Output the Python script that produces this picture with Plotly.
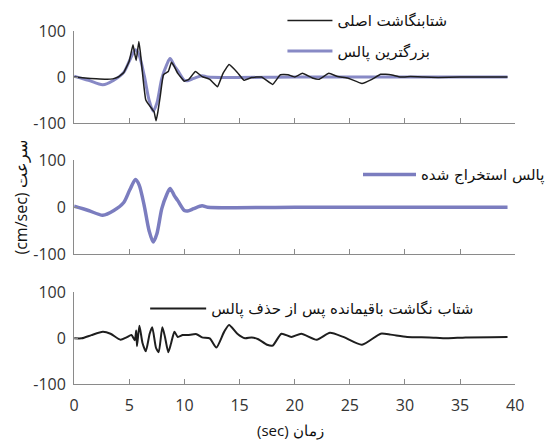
import plotly.graph_objects as go

# ---------------- data ----------------
orig_t = [0, 1, 2, 3, 3.5, 4, 4.5, 5, 5.34, 5.5, 5.63, 5.87, 6.0, 6.5, 7.08, 7.25, 7.43, 7.6, 7.8,
          8.1, 8.54, 8.83, 9.1, 9.4, 10.0, 10.4, 11.0, 11.6, 12.3, 13.0, 13.5, 14.05, 14.8, 15.4,
          16.1, 17.0, 18.0, 18.7, 19.4, 20.0, 20.7, 21.6, 22.2, 23.1, 23.9, 24.8, 26.1, 27.0,
          27.8, 28.7, 29.6, 30.5, 31.7, 33.0, 35.0, 37.0, 39.3]
orig_v = [0, -2, -4, -5, -4, 0, 10, 35, 70, 50, 36, 77, 55, -50, -70, -75, -95, -75, -43,
          5, 12, 32, 22, 8, -9, -5, 12, 1, -5, -21, 8, 27, 10, -7,
          -1, 0, -16, 5, 5, 0, 8, -2, -5, 8, 1, -2, -14, -5,
          6, 5, 0, 1, 0, -1, 0, 0, 0]

pulse_t = [0, 1.3, 2.6, 3.6, 4.5, 5.05, 5.57, 5.9, 6.36, 6.8, 7.17, 7.5, 7.95, 8.4, 8.7,
           9.1, 9.4, 10.0, 10.3, 10.85, 11.6, 12.1, 20.0, 30.0, 39.3]
pulse_v = [2, -7, -17, -7, 10, 37, 59, 47, 3, -50, -74, -57, -3, 27, 40,
           24, 14, -7, -8, -3, 3, 0, 0, 0, 0]

resid_t = [0, 0.7, 1.57, 2.6, 3.3, 4.2, 4.75, 5.2, 5.5, 5.63, 5.7, 5.92, 6.2, 6.5, 6.85,
           7.08, 7.43, 7.67, 8.0, 8.24, 8.54, 8.8, 9.1, 9.4, 9.84, 10.3, 11.1, 11.6, 12.3,
           12.9, 13.6, 14.05, 14.8, 15.5, 16.1, 16.7, 17.5, 18.0, 18.8, 19.7, 20.6, 22.0,
           23.2, 24.4, 26.1, 27.8, 28.7, 30.2, 32.2, 33.8, 35.5, 39.3]
resid_v = [0, 0, 7, 14, 10, -3, 2, 7, -4, 17, -17, 27, -10, -28, 10,
           24, -21, -30, 24, 3, -30, -10, 14, 3, 7, 7, 9, 2, 0,
           -20, 14, 29, 10, 0, 2, -2, -14, -16, 10, 3, 10, -3,
           12, 3, -14, 10, 8, 3, 2, 0, 2, 3]

x_ticks = [0, 5, 10, 15, 20, 25, 30, 35, 40]
y_ticks = [-100, 0, 100]
y_ticktext = ["-100", "0", "100"]

name_orig = "شتابنگاشت اصلی"
name_pulse = "بزرگترین پالس"
name_extracted = "پالس استخراج شده"
name_resid = "شتاب نگاشت باقیمانده پس از حذف پالس"
y_title = "(cm/sec) سرعت"
x_title = "(sec) زمان"

BLUE = "#7b7dbf"
BLACK = "#1e1e1e"

fig = go.Figure()
fig.add_trace(go.Scatter(x=pulse_t, y=pulse_v, mode="lines", name=name_pulse,
                         line=dict(color=BLUE, width=3, shape="spline", smoothing=0.8),
                         opacity=0.9, legendrank=2,
                         xaxis="x", yaxis="y", legend="legend", legendgroup="b"))
fig.add_trace(go.Scatter(x=orig_t, y=orig_v, mode="lines", name=name_orig,
                         line=dict(color=BLACK, width=1.5, shape="spline", smoothing=0.3),
                         legendrank=1,
                         xaxis="x", yaxis="y", legend="legend", legendgroup="a"))
fig.add_trace(go.Scatter(x=pulse_t, y=pulse_v, mode="lines", name=name_extracted,
                         line=dict(color=BLUE, width=3.5, shape="spline", smoothing=0.8),
                         xaxis="x2", yaxis="y2", legend="legend2"))
fig.add_trace(go.Scatter(x=resid_t, y=resid_v, mode="lines", name=name_resid,
                         line=dict(color=BLACK, width=2, shape="spline", smoothing=0.6),
                         xaxis="x3", yaxis="y3", legend="legend3"))

W, H = 550, 441
xdom = [72 / W, 531.5 / W]
doms = [(21, 118), (157, 256), (296, 393)]

tickfont = dict(family="Open Sans, sans-serif", size=16, color="#333")
axis_common = dict(showline=True, linecolor="#8a8a8a", linewidth=1, ticks="inside",
                   tickcolor="#8a8a8a", ticklen=5, showgrid=False, zeroline=False,
                   tickfont=tickfont)

layout = dict(width=W, height=H, margin=dict(l=0, r=0, t=0, b=0),
              paper_bgcolor="white", plot_bgcolor="white")
for i, (top, bot) in enumerate(doms):
    sfx = "" if i == 0 else str(i + 1)
    ydom = [1 - bot / H, 1 - top / H]
    layout["xaxis" + sfx] = dict(axis_common, domain=xdom, range=[0, 40], tickvals=x_ticks,
                                 showticklabels=(i == 2), anchor="y" + sfx,
                                 ticklabelstandoff=6)
    layout["yaxis" + sfx] = dict(axis_common, domain=ydom, range=[-100, 100], tickvals=y_ticks,
                                 ticktext=y_ticktext, anchor="x" + sfx, ticklen=4,
                                 ticklabelstandoff=4)

legfont = dict(family="DejaVu Sans, sans-serif", size=15, color="#111")
common_leg = dict(bgcolor="rgba(0,0,0,0)", borderwidth=0, font=legfont, xanchor="left",
                  yanchor="top", xref="paper", yref="paper")
layout["legend"] = dict(common_leg, x=(296 - 7) / W, y=1 + 7 / H, tracegroupgap=8,
                        traceorder="grouped", itemwidth=45)
layout["legend2"] = dict(common_leg, x=(375 - 7) / W, y=1 - 155 / H, itemwidth=53)
layout["legend3"] = dict(common_leg, x=(153 - 7) / W, y=1 - 296 / H, itemwidth=56)
layout["showlegend"] = True

layout["annotations"] = [
    dict(text=y_title, x=17 / W, y=1 - 196 / H, xref="paper", yref="paper", textangle=-90,
         xanchor="center", yanchor="middle",
         showarrow=False, font=dict(family="Open Sans, sans-serif", size=16, color="#111")),
    dict(text=x_title, x=297 / W, y=1 - 441 / H, xref="paper", yref="paper",
         xanchor="center", yanchor="middle",
         showarrow=False, font=dict(family="Open Sans, sans-serif", size=15, color="#111")),
]

fig.update_layout(layout)
fig.write_html("out.html")
